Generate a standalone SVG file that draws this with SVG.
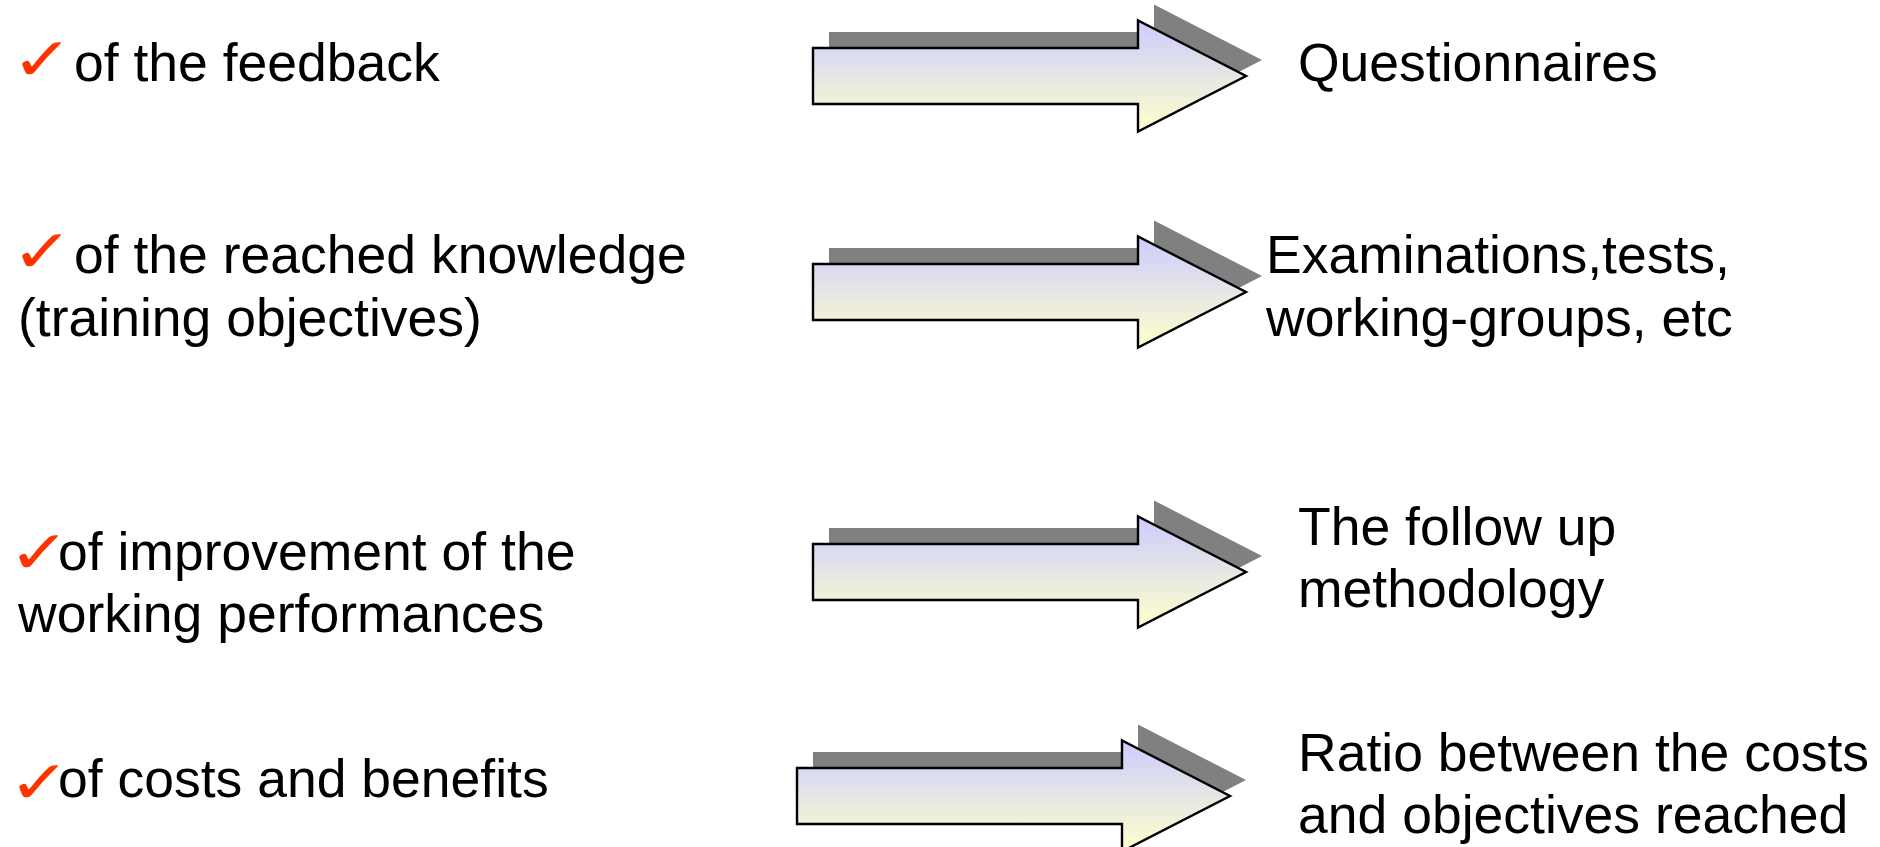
<svg xmlns="http://www.w3.org/2000/svg" width="1880" height="847" viewBox="0 0 1880 847">
<style>
.t{font-family:"Liberation Sans",Arial,sans-serif;font-size:53.5px;fill:#000}
.ck{font-family:"DejaVu Sans",sans-serif;font-size:60px;fill:#FF3300;letter-spacing:-14px}
.sh{fill:#808080}
.ar{fill:url(#g);stroke:#000;stroke-width:2.4;stroke-linejoin:miter}
</style>
<defs>
<linearGradient id="g" x1="0" y1="0" x2="0" y2="1">
<stop offset="0" stop-color="#CCCCFF"/>
<stop offset="1" stop-color="#FFFFCC"/>
</linearGradient>
<path id="arrow" d="M0,-28 H325 V-55.5 L433,0 L325,55.5 V28 H0 Z"/>
</defs>
<rect width="1880" height="847" fill="#fff"/>
<g id="connectors">
<g id="arrow1"><use href="#arrow" class="sh" transform="translate(829,60)"/><use href="#arrow" class="ar" transform="translate(813,76)"/></g>
<g id="arrow2"><use href="#arrow" class="sh" transform="translate(829,276)"/><use href="#arrow" class="ar" transform="translate(813,292)"/></g>
<g id="arrow3"><use href="#arrow" class="sh" transform="translate(829,556)"/><use href="#arrow" class="ar" transform="translate(813,572)"/></g>
<g id="arrow4"><use href="#arrow" class="sh" transform="translate(813,780)"/><use href="#arrow" class="ar" transform="translate(797,796)"/></g>
</g>
<g id="item1"><text class="ck" transform="translate(11,80) scale(1.25,1)">✓</text><text class="t" x="74" y="81">of the feedback</text></g>
<g id="item2"><text class="ck" transform="translate(11,272) scale(1.25,1)">✓</text><text class="t" x="74" y="273">of the reached knowledge</text><text class="t" x="18" y="336">(training objectives)</text></g>
<g id="item3"><text class="ck" transform="translate(8,573) scale(1.25,1)">✓</text><text class="t" x="58" y="570">of improvement of the</text><text class="t" x="18" y="632">working performances</text></g>
<g id="item4"><text class="ck" transform="translate(8,803) scale(1.25,1)">✓</text><text class="t" x="58" y="797">of costs and benefits</text></g>
<g id="result1"><text class="t" x="1298" y="81">Questionnaires</text></g>
<g id="result2"><text class="t" x="1266" y="273">Examinations,tests,</text><text class="t" x="1266" y="336">working-groups, etc</text></g>
<g id="result3"><text class="t" x="1298" y="545">The follow up</text><text class="t" x="1298" y="607">methodology</text></g>
<g id="result4"><text class="t" x="1298" y="771">Ratio between the costs</text><text class="t" x="1298" y="833">and objectives reached</text></g>
</svg>
